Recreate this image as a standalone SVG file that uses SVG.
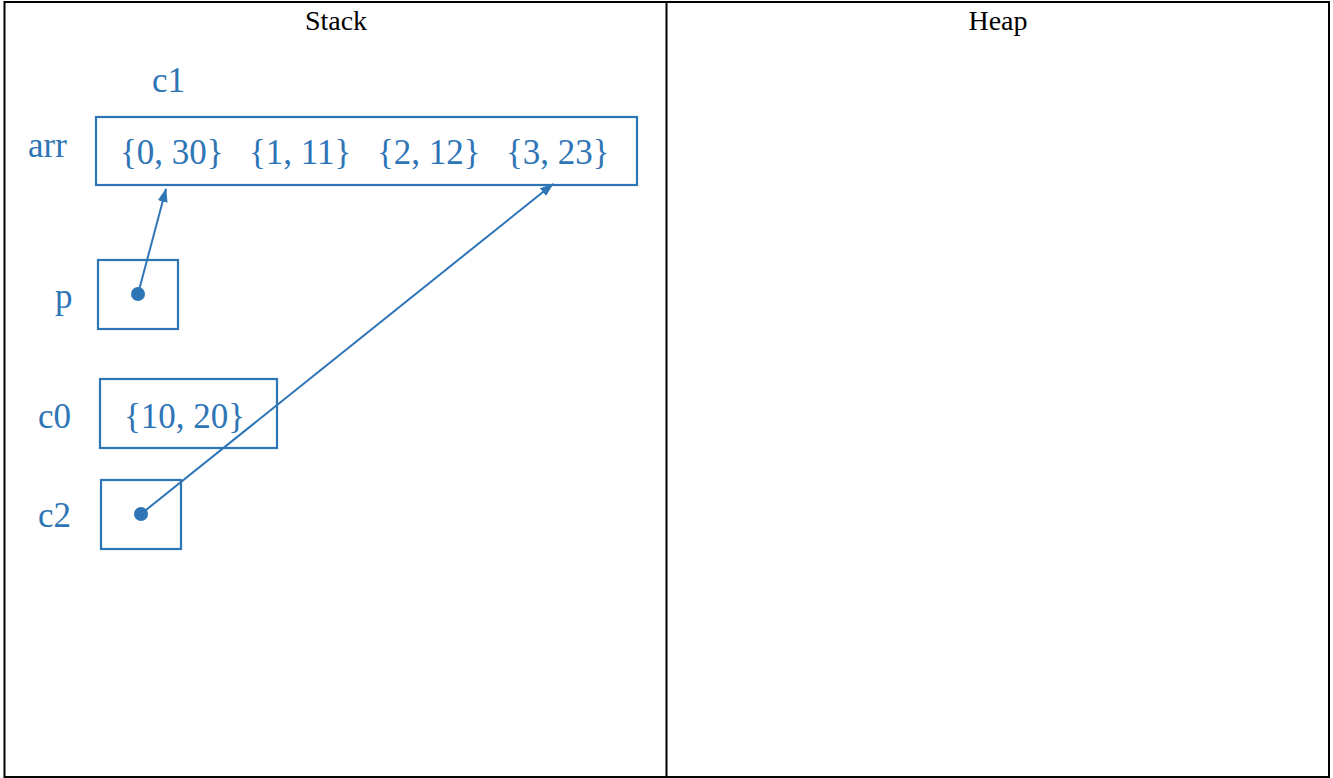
<svg xmlns="http://www.w3.org/2000/svg" width="1333" height="778" viewBox="0 0 1333 778">
<style>
.frame{fill:none;stroke:#000;stroke-width:2}
.hdr{font-family:"Liberation Serif",serif;font-size:28px;fill:#000;text-anchor:middle}
.box{fill:none;stroke:#2E75B6;stroke-width:2.2}
.lbl{font-family:"Liberation Serif",serif;font-size:35px;fill:#2E75B6}
.edge{stroke:#2E75B6;stroke-width:2;fill:none;marker-end:url(#ah)}
.dot{fill:#2E75B6}
</style>
<defs>
<marker id="ah" viewBox="0 0 14 10" refX="13" refY="5" markerWidth="14" markerHeight="10" orient="auto" markerUnits="userSpaceOnUse">
<path d="M0,0 L14,5 L0,10 z" fill="#2E75B6"/>
</marker>
</defs>
<rect width="1333" height="778" fill="#fff"/>
<g id="table">
<rect class="frame" x="4.5" y="2" width="1324.5" height="775"/>
<line class="frame" x1="666.5" y1="2" x2="666.5" y2="777"/>
<text class="hdr" x="336" y="30">Stack</text>
<text class="hdr" x="998" y="30">Heap</text>
</g>
<g id="c1">
<text class="lbl" x="152" y="92">c1</text>
</g>
<g id="arr">
<text class="lbl" x="28" y="157">arr</text>
<rect class="box" x="96" y="117" width="541" height="68"/>
<text class="lbl" x="120" y="164">{0, 30}</text>
<text class="lbl" x="249" y="164">{1, 11}</text>
<text class="lbl" x="377" y="164">{2, 12}</text>
<text class="lbl" x="506" y="164">{3, 23}</text>
</g>
<g id="p">
<text class="lbl" x="55" y="308">p</text>
<rect class="box" x="98" y="260" width="80" height="69"/>
<circle class="dot" cx="138" cy="294" r="7"/>
</g>
<g id="c0">
<text class="lbl" x="38" y="428">c0</text>
<rect class="box" x="100" y="379" width="177" height="69"/>
<text class="lbl" x="124" y="428">{10, 20}</text>
</g>
<g id="c2">
<text class="lbl" x="38" y="527">c2</text>
<rect class="box" x="101" y="480" width="80" height="69"/>
<circle class="dot" cx="141" cy="514" r="7"/>
</g>
<g id="connectors">
<line class="edge" x1="138" y1="294" x2="166" y2="189"/>
<line class="edge" x1="141" y1="514" x2="553" y2="184"/>
</g>
</svg>
